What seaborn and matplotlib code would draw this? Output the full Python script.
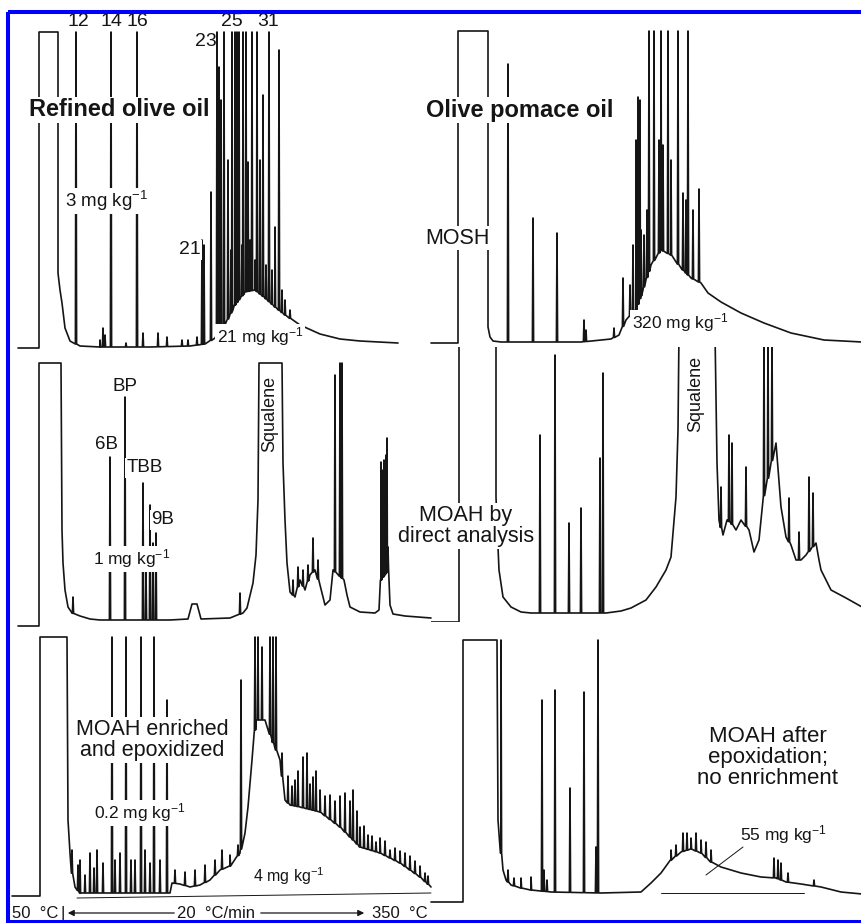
import numpy as np
import matplotlib.pyplot as plt
import seaborn as sns
from matplotlib.lines import Line2D
from matplotlib.patches import FancyArrowPatch

W, H = 862, 923

# ---- data: retention position (x) and detector signal (y) ----
# envelope = flat start, solvent peak, baseline and humps; peaks = sharp peaks (position, apex)

# Refined olive oil, MOSH
a_env_x = [18, 39, 39, 58, 58, 60, 62, 65, 70, 80, 100, 150, 190, 205, 215, 225, 235, 245, 255, 265,
           275, 285, 300, 320, 340, 360, 380, 398]
a_env_y = [0, 0, 316, 316, 75, 58, 45, 20, 7, 2, 1, 1, 2, 4, 10, 23, 43, 56, 58, 50,
           41, 33, 23, 14, 9, 7, 6, 5]
a_pk_x = [76, 100, 103, 105, 111, 126, 137, 143, 158, 167, 182, 188, 197, 202, 204, 211, 217, 219, 221, 224,
          228, 231, 232, 235, 237, 239, 242, 243, 246, 248, 250, 252, 255, 257, 260, 263, 266, 269, 272, 275,
          279, 282, 285, 290]
a_pk_y = [316, 8, 20, 13, 316, 5, 316, 15, 15, 11, 8, 8, 11, 108, 103, 156, 316, 281, 248, 316,
          188, 98, 316, 316, 316, 316, 103, 316, 316, 186, 108, 316, 88, 316, 188, 253, 83, 316, 78, 121,
          298, 58, 48, 38]

# Olive pomace oil, MOSH
b_env_x = [0, 27, 27, 57, 57, 59, 62, 70, 150, 180, 188, 195, 205, 212, 220, 230, 240, 250, 260, 270,
           277, 290, 310, 333, 360, 393, 431]
b_env_y = [0, 0, 312, 312, 16, 6, 2, 1, 1, 4, 8, 23, 33, 53, 78, 93, 88, 75, 65, 60,
           50, 41, 30, 20, 10, 3, 1]
b_pk_x = [77, 102, 126, 153, 155, 183, 192, 199, 202, 205, 207, 209, 210, 213, 216, 218, 223, 228, 230, 232,
          237, 240, 247, 252, 255, 257, 262, 268]
b_pk_y = [279, 125, 110, 23, 13, 15, 65, 58, 98, 203, 246, 243, 113, 108, 133, 312, 312, 203, 312, 198,
          312, 183, 312, 150, 143, 312, 133, 154]

# Refined olive oil, MOAH by direct analysis
c_env_x = [18, 39, 39, 61, 62, 63, 65, 68, 72, 80, 90, 100, 170, 188, 192, 197, 201, 230, 243, 247,
           253, 256, 258, 259, 282, 283, 285, 287, 290, 295, 300, 305, 310, 315, 320, 325, 330, 333, 344, 347,
           350, 360, 375, 379, 381, 388, 390, 393, 405, 431]
c_env_y = [0, 0, 263, 263, 96, 63, 36, 19, 13, 10, 7, 6, 6, 7, 22, 22, 7, 8, 13, 18,
           43, 71, 126, 263, 263, 163, 106, 63, 34, 29, 46, 36, 51, 56, 41, 21, 26, 56, 46, 31,
           19, 14, 13, 16, 46, 56, 21, 12, 10, 8]
c_pk_x = [73, 110, 125, 143, 146, 150, 153, 156, 240, 293, 298, 303, 308, 313, 318, 335, 340, 342,
          381, 383, 384, 385, 386, 387, 388]
c_pk_y = [29, 169, 229, 143, 56, 121, 83, 93, 33, 46, 59, 56, 61, 88, 66, 251, 263, 263,
          164, 156, 166, 156, 171, 188, 79]

# Olive pomace oil, MOAH by direct analysis (off-scale above 275)
d_env_x = [0, 28, 28, 65, 65, 67, 68, 72, 80, 90, 100, 175, 190, 200, 215, 225, 235, 240, 245, 247,
           248, 284, 286, 288, 292, 296, 300, 305, 310, 318, 323, 328, 332, 345, 350, 355, 360, 365, 370, 375,
           385, 388, 390, 400, 415, 431]
d_env_y = [0, 0, 290, 290, 125, 75, 52, 25, 15, 10, 9, 9, 11, 14, 22, 35, 52, 65, 125, 192,
           290, 290, 159, 102, 87, 102, 99, 92, 102, 92, 70, 82, 122, 179, 115, 85, 77, 62, 62, 67,
           79, 62, 52, 32, 24, 15]
d_pk_x = [109, 124, 138, 150, 169, 172, 290, 298, 301, 315, 333, 337, 341, 358, 368, 378, 382]
d_pk_y = [187, 267, 99, 114, 164, 249, 135, 187, 179, 155, 290, 290, 290, 124, 90, 145, 129]

# Refined olive oil, MOAH enriched and epoxidized
e_env_x = [12, 40, 40, 67, 68, 70, 72, 75, 80, 170, 172, 180, 190, 200, 210, 220, 230, 240, 245, 248,
           252, 256, 265, 272, 280, 285, 290, 300, 320, 340, 360, 380, 400, 420, 431]
e_env_y = [0, 0, 259, 259, 76, 43, 23, 9, 3, 3, 13, 12, 9, 11, 16, 26, 30, 43, 63, 89,
           136, 176, 176, 156, 136, 96, 91, 89, 84, 69, 49, 43, 33, 19, 9]
e_pk_x = [72, 78, 80, 85, 90, 94, 97, 103, 112, 115, 120, 126, 131, 135, 141, 145, 150, 154, 160, 167,
          175, 185, 195, 205, 215, 222, 230, 238, 241, 255, 258, 262, 270, 273, 276, 282, 288, 292, 295, 298,
          303, 307, 310, 313, 316, 320, 325, 330, 335, 340, 345, 350, 353, 357, 360, 364, 368, 372, 376, 380,
          385, 390, 395, 400, 405, 410, 415, 420, 425, 428]
e_pk_y = [46, 31, 36, 21, 43, 28, 46, 33, 259, 36, 43, 259, 36, 36, 259, 46, 33, 259, 36, 196,
          26, 24, 26, 31, 36, 46, 41, 51, 216, 259, 259, 249, 259, 259, 259, 143, 120, 110, 116, 125,
          139, 143, 112, 119, 125, 106, 100, 101, 95, 100, 103, 95, 106, 85, 69, 70, 61, 60, 54, 58,
          55, 46, 48, 45, 43, 40, 35, 30, 23, 20]
e_base_x = [77, 431]
e_base_y = [-2, 3]

# Olive pomace oil, MOAH after epoxidation, no enrichment
f_env_x = [0, 32, 32, 66, 67, 70, 72, 75, 80, 90, 100, 120, 170, 210, 220, 230, 240, 250, 260, 270,
           280, 290, 310, 330, 345, 355, 370, 390, 410, 431]
f_env_y = [0, 0, 262, 262, 82, 49, 32, 22, 17, 14, 12, 10, 9, 10, 19, 29, 42, 50, 53, 49,
           40, 35, 29, 25, 24, 20, 18, 15, 10, 8]
f_pk_x = [70, 77, 83, 90, 100, 111, 113, 116, 124, 139, 153, 165, 167, 240, 245, 252, 256, 260, 265, 270,
          275, 280, 343, 347, 350, 357, 383]
f_pk_y = [262, 32, 24, 24, 25, 202, 32, 22, 212, 114, 210, 55, 262, 52, 57, 69, 69, 64, 69, 62,
          60, 52, 44, 42, 39, 29, 22]
f_base_x = [230, 373]
f_base_y = [9, 9]
f_ptr_x = [275, 312]
f_ptr_y = [27, 55]

sns.set_theme(style="white")
plt.rcParams['font.family'] = ['Liberation Sans', 'DejaVu Sans']
plt.rcParams['mathtext.default'] = 'regular'

INK = '#151515'


def build_trace(env_x, env_y, pk_x, pk_y, half=0.6):
    # add each sharp peak as a spike standing on the envelope
    pts = list(zip(env_x, env_y))
    for x, h in zip(pk_x, pk_y):
        b = float(np.interp(x, env_x, env_y))
        pts += [(x - half, b), (x, h), (x + half, b)]
    pts = sorted(pts, key=lambda p: p[0])
    return [p[0] for p in pts], [p[1] for p in pts]


def panel(fig, x0, top, base):
    ax = fig.add_axes([x0 / W, 1 - base / H, 431 / W, (base - top) / H])
    ax.set_xlim(0, 431)
    ax.set_ylim(0, base - top)
    ax.set_axis_off()
    ax.patch.set_alpha(0)
    return ax


fig = plt.figure(figsize=(W / 100, H / 100), dpi=100)

specs = [
    (a_env_x, a_env_y, a_pk_x, a_pk_y, 0, 32, 348, False),
    (b_env_x, b_env_y, b_pk_x, b_pk_y, 431, 31, 343, False),
    (c_env_x, c_env_y, c_pk_x, c_pk_y, 0, 363, 626, False),
    (d_env_x, d_env_y, d_pk_x, d_pk_y, 431, 347, 622, True),
    (e_env_x, e_env_y, e_pk_x, e_pk_y, 0, 637, 896, False),
    (f_env_x, f_env_y, f_pk_x, f_pk_y, 431, 640, 902, False),
]
axes = []
for ex, ey, px, py, x0, top, base, clip in specs:
    ax = panel(fig, x0, top, base)
    tx, ty = build_trace(ex, ey, px, py)
    sns.lineplot(x=tx, y=ty, sort=False, estimator=None, color=INK, lw=1.2, ax=ax,
                 clip_on=clip)
    axes.append(ax)

sns.lineplot(x=e_base_x, y=e_base_y, sort=False, estimator=None, color=INK, lw=0.7,
             ax=axes[4], clip_on=False)
sns.lineplot(x=f_base_x, y=f_base_y, sort=False, estimator=None, color=INK, lw=0.7,
             ax=axes[5], clip_on=False)
sns.lineplot(x=f_ptr_x, y=f_ptr_y, sort=False, estimator=None, color=INK, lw=0.7,
             ax=axes[5], clip_on=False)


def fp(x, y):
    return x / W, 1 - y / H


box = dict(facecolor='white', edgecolor='none', pad=1.0)


def label(x, y, s, size=13.5, bg=True, **kw):
    fig.text(*fp(x, y), s, fontsize=size, ha=kw.pop('ha', 'center'), va=kw.pop('va', 'center'),
             color=INK, bbox=box if bg else None, zorder=5, **kw)


# carbon numbers above the MOSH peaks
for xx, s in [(78, '12'), (111, '14'), (137, '16'), (232, '25'), (268, '31')]:
    label(xx, 22, s, size=14, bg=False)
label(206, 41, '23', size=14, bg=False)
label(190, 250, '21', size=14)

label(119, 110, 'Refined olive oil', size=17, fontweight='bold')
label(520, 110, 'Olive pomace oil', size=17, fontweight='bold')
label(107, 201, '3 mg kg$^{-1}$', size=13.5)
label(260, 337, '21 mg kg$^{-1}$', size=12.5)
label(457, 238, 'MOSH', size=15.5)
label(680, 323, '320 mg kg$^{-1}$', size=12.5)

label(125, 386, 'BP', size=13.5, bg=False)
label(107, 444, '6B', size=13.5)
label(145, 468, 'TBB', size=13.5)
label(163, 520, '9B', size=13.5)
label(132, 559, '1 mg kg$^{-1}$', size=12.5)
label(270, 414, 'Squalene', size=13, rotation=90, bg=False)
label(696, 394, 'Squalene', size=13, rotation=90, bg=False)
label(466, 526, 'MOAH by\ndirect analysis', size=15.5, linespacing=1.05)

label(152, 740, 'MOAH enriched\nand epoxidized', size=15.5, linespacing=1.05)
label(140, 813, '0.2 mg kg$^{-1}$', size=12.5)
label(289, 876, '4 mg kg$^{-1}$', size=11.5, bg=False)
label(768, 757, 'MOAH after\nepoxidation;\nno enrichment', size=16, bg=False, linespacing=1.0)
label(783, 835, '55 mg kg$^{-1}$', size=12.5, bg=False)

# temperature programme along the bottom
label(12, 918, '50  °C', size=12, bg=False, ha='left', va='baseline')
label(63, 918, '|', size=12, bg=False, va='baseline')
label(216, 918, '20  °C/min', size=12, bg=False, va='baseline')
label(372, 918, '350  °C', size=12, bg=False, ha='left', va='baseline')
for a, b in [((177, 913), (65, 913)), ((258, 913), (367, 913))]:
    fig.add_artist(FancyArrowPatch(fp(*a), fp(*b), transform=fig.transFigure, arrowstyle='-|>',
                                   mutation_scale=9, lw=0.9, color=INK, zorder=6))

# blue frame
for xs, ys in [((8, 8), (12, H)), ((8, W), (12, 12)), ((8, W), (921.5, 921.5))]:
    fig.add_artist(Line2D([x / W for x in xs], [1 - y / H for y in ys], transform=fig.transFigure,
                          color='#0000ff', lw=2.9, zorder=10, solid_capstyle='butt'))

fig.savefig('out.png', dpi=100)
